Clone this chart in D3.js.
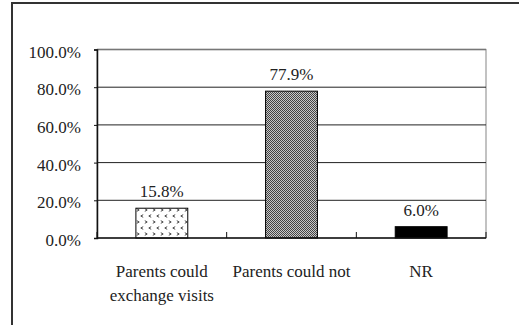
<!DOCTYPE html>
<html>
<head>
<meta charset="utf-8">
<script src="https://cdn.jsdelivr.net/npm/d3@7"></script>
<style>
  body { margin: 0; background: #fff; }
</style>
</head>
<body>
<div id="chart"></div>
<script>
// data
const categories = ["Parents could\nexchange visits", "Parents could not", "NR"];
const values = [0.158, 0.779, 0.060];
const yTicks = [0, 0.2, 0.4, 0.6, 0.8, 1.0];

const width = 519, height = 325;
const plot = { left: 97, right: 486, top: 49.5, bottom: 238 };
const fontSize = 17;
const serif = "'Liberation Serif', 'Times New Roman', 'DejaVu Serif', serif";

const svg = d3.select("#chart").append("svg")
  .attr("width", width)
  .attr("height", height);

// patterns
const defs = svg.append("defs");
const dots = defs.append("pattern")
  .attr("id", "chev")
  .attr("patternUnits", "userSpaceOnUse")
  .attr("width", 16).attr("height", 12)
  .attr("x", 135).attr("y", 208);
dots.append("rect").attr("width", 16).attr("height", 12).attr("fill", "#fff");
[[3, 2, 1], [11, 2, 1], [7, 8, -1], [15, 8, -1], [-1, 8, -1]].forEach(([cx, cy, dir]) => {
  dots.append("path")
    .attr("d", `M${cx - dir * 1.2},${cy - 1.3} L${cx + dir * 1.2},${cy} L${cx - dir * 1.2},${cy + 1.3}`)
    .attr("fill", "none")
    .attr("stroke", "#444")
    .attr("stroke-width", 1);
});

const checker = defs.append("pattern")
  .attr("id", "checker")
  .attr("patternUnits", "userSpaceOnUse")
  .attr("width", 2).attr("height", 2);
checker.append("rect").attr("width", 2).attr("height", 2).attr("fill", "#c8c8c8");
checker.append("rect").attr("width", 1).attr("height", 1).attr("fill", "#444");
checker.append("rect").attr("x", 1).attr("y", 1).attr("width", 1).attr("height", 1).attr("fill", "#444");

const fills = ["url(#chev)", "url(#checker)", "#000"];

// outer frame
svg.append("path")
  .attr("d", `M12,${height} L12,3 L${width},3`)
  .attr("fill", "none")
  .attr("stroke", "#333")
  .attr("stroke-width", 2);

// scales
const x = d3.scaleBand()
  .domain(categories)
  .range([plot.left, plot.right])
  .paddingInner(0.6)
  .paddingOuter(0.3);

const y = d3.scaleLinear()
  .domain([0, 1])
  .range([plot.bottom, plot.top]);

// plot border
svg.append("rect")
  .attr("x", plot.left).attr("y", plot.top)
  .attr("width", plot.right - plot.left)
  .attr("height", plot.bottom - plot.top)
  .attr("fill", "none")
  .attr("stroke", "#999")
  .attr("stroke-width", 1.2);

// gridlines
svg.append("g")
  .selectAll("line")
  .data(yTicks.filter(d => d > 0))
  .enter()
  .append("line")
  .attr("x1", plot.left).attr("x2", plot.right)
  .attr("y1", d => y(d)).attr("y2", d => y(d))
  .attr("stroke", d => d === 1 ? "#777" : "#222")
  .attr("stroke-width", d => d === 1 ? 1.5 : 1);

// y axis
const yAxis = svg.append("g")
  .attr("transform", `translate(${plot.left},0)`)
  .call(d3.axisLeft(y).tickValues(yTicks).tickFormat(d3.format(".1%")).tickSize(3).tickPadding(13));
yAxis.attr("font-family", serif).attr("font-size", fontSize);
yAxis.select(".domain").attr("stroke", "#111").attr("stroke-width", 1.5);
yAxis.selectAll(".tick line").attr("stroke", "#111");
yAxis.selectAll(".tick text")
  .attr("dy", "0.45em")
  .attr("fill", "#222");

// bars
svg.append("g")
  .selectAll("rect")
  .data(values)
  .enter()
  .append("rect")
  .attr("x", (d, i) => x(categories[i]))
  .attr("y", d => y(d))
  .attr("width", x.bandwidth())
  .attr("height", d => y(0) - y(d))
  .attr("fill", (d, i) => fills[i])
  .attr("stroke", "#000")
  .attr("stroke-width", 1);

// value labels
svg.append("g")
  .attr("font-family", serif)
  .attr("font-size", fontSize)
  .attr("fill", "#222")
  .selectAll("text")
  .data(values)
  .enter()
  .append("text")
  .attr("x", (d, i) => x(categories[i]) + x.bandwidth() / 2)
  .attr("y", d => y(d) - 11)
  .attr("text-anchor", "middle")
  .text(d => d3.format(".1%")(d));

// x axis line and ticks between categories
svg.append("line")
  .attr("x1", plot.left).attr("x2", plot.right)
  .attr("y1", plot.bottom).attr("y2", plot.bottom)
  .attr("stroke", "#111").attr("stroke-width", 1.5);

const step = x.step();
svg.append("g")
  .selectAll("line")
  .data(d3.range(categories.length + 1))
  .enter()
  .append("line")
  .attr("x1", i => plot.left + i * step)
  .attr("x2", i => plot.left + i * step)
  .attr("y1", plot.bottom)
  .attr("y2", plot.bottom - 6)
  .attr("stroke", "#111");

// category labels
const catLabels = svg.append("g")
  .attr("font-family", serif)
  .attr("font-size", fontSize)
  .attr("fill", "#222")
  .selectAll("text")
  .data(categories)
  .enter()
  .append("text")
  .attr("x", d => x(d) + x.bandwidth() / 2)
  .attr("y", 277)
  .attr("text-anchor", "middle");

catLabels.each(function(d) {
  const lines = d.split("\n");
  const t = d3.select(this);
  lines.forEach((ln, i) => {
    t.append("tspan")
      .attr("x", t.attr("x"))
      .attr("dy", i === 0 ? 0 : 24)
      .text(ln);
  });
});
</script>
</body>
</html>
